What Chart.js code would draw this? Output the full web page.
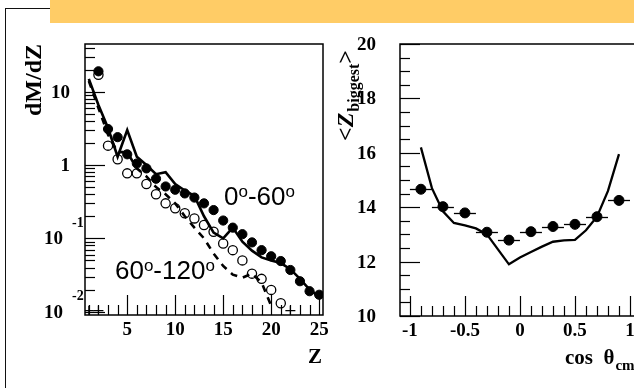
<!DOCTYPE html>
<html><head><meta charset="utf-8">
<script src="https://cdn.jsdelivr.net/npm/chart.js@4/dist/chart.umd.min.js"></script>
<style>
html,body{margin:0;padding:0;width:634px;height:388px;overflow:hidden;background:#fff;}
#banner{position:absolute;left:50px;top:0;width:584px;height:23px;background:#FFCC66;}
#frameTop{position:absolute;left:5px;top:8px;width:45px;height:0;border-top:1.5px solid #111;}
#frameLeft{position:absolute;left:5px;top:8px;width:0;height:380px;border-left:1.5px solid #111;}
#c1{position:absolute;left:0;top:0;}
#c2{position:absolute;left:330px;top:0;}
</style></head>
<body>
<div id="banner"></div><div id="frameTop"></div><div id="frameLeft"></div>
<canvas id="c1" width="340" height="388"></canvas>
<canvas id="c2" width="370" height="388"></canvas>
<script>
// ---------- Left panel data: dM/dZ vs Z ----------
const Z_FILLED = [2,3,4,5,6,7,8,9,10,11,12,13,14,15,16,17,18,19,20,21,22,23,24,25];
const DMDZ_0_60 = [19,3.1,2.4,1.4,1.05,0.9,0.65,0.51,0.46,0.41,0.36,0.30,0.243,0.175,0.14,0.114,0.088,0.069,0.057,0.049,0.037,0.026,0.019,0.017];
const Z_OPEN = [2,3,4,5,6,7,8,9,10,11,12,13,14,15,16,17,18,19,20,21];
const DMDZ_60_120 = [17,1.84,1.2,0.77,0.77,0.55,0.40,0.30,0.257,0.22,0.187,0.152,0.123,0.085,0.069,0.05,0.033,0.028,0.0198,0.013];
const Z_SIM_0_60 = [1,2,3,4,5,6,7,8,9,10,11,12,13,14,15,16,17,18,19,20,21,22,23,24,25];
const SIM_0_60 = [15,6.6,3.2,1.3,3.0,1.3,1.0,0.75,0.8,0.55,0.45,0.38,0.2,0.12,0.1,0.14,0.09,0.068,0.055,0.05,0.046,0.038,0.028,0.02,0.016];
const Z_SIM_60_120 = [1,2,3,4,5,6,7,8,9,10,11,12,13,14,15,16,17,18,19,20];
const SIM_60_120 = [14,6,2.6,1.5,1.5,0.9,0.7,0.5,0.4,0.3,0.2,0.14,0.1,0.062,0.042,0.032,0.029,0.033,0.025,0.012];
const Z_UNDER = [1,2,22];
const DMDZ_UNDER = [0.0103,0.0103,0.0103];
const LEFT_X_TICKS = [5,10,15,20,25];
const LEFT_X_MINOR = [1,2,3,4,6,7,8,9,11,12,13,14,16,17,18,19,21,22,23,24];
const LEFT_Y_TICKS = [0.01,0.1,1,10];
const LEFT_Y_TICK_LABELS = [["10","-2"],["10","-1"],["1",""],["10",""]];
const LEFT_Y_MINOR = [0.02,0.03,0.04,0.05,0.06,0.07,0.08,0.09,0.2,0.3,0.4,0.5,0.6,0.7,0.8,0.9,2,3,4,5,6,7,8,9,20,30,40];

// ---------- Right panel data: <Z_biggest> vs cos theta_cm ----------
const COS_BINS = [-0.9,-0.7,-0.5,-0.3,-0.1,0.1,0.3,0.5,0.7,0.9];
const ZBIG_DATA = [14.66,14.02,13.79,13.08,12.79,13.1,13.29,13.37,13.65,14.25];
const COS_ERR = [0.1,0.1,0.1,0.1,0.1,0.1,0.1,0.1,0.1,0.1];
const COS_SIM = [-0.9,-0.8,-0.7,-0.6,-0.5,-0.4,-0.3,-0.2,-0.1,0,0.1,0.2,0.3,0.4,0.5,0.6,0.7,0.8,0.9];
const ZBIG_SIM = [16.2,14.7,13.85,13.42,13.33,13.22,13.0,12.45,11.9,12.15,12.35,12.55,12.73,12.78,12.8,13.15,13.65,14.6,15.95];
const RIGHT_X_TICKS = [-1,-0.5,0,0.5,1];
const RIGHT_X_MINOR = [-0.9,-0.8,-0.7,-0.6,-0.4,-0.3,-0.2,-0.1,0.1,0.2,0.3,0.4,0.6,0.7,0.8,0.9];
const RIGHT_Y_TICKS = [10,12,14,16,18,20];
const RIGHT_Y_MINOR = [10.5,11,11.5,12.5,13,13.5,14.5,15,15.5,16.5,17,17.5,18.5,19,19.5];

const SERIF = '"Liberation Serif", "Times New Roman", serif';
const SANS = '"Liberation Sans", Arial, sans-serif';
const pts = (xs, ys) => xs.map((x, i) => ({x, y: ys[i]}));

function drawRich(ctx, x, y, parts) {
  let cx = x;
  for (const p of parts) {
    ctx.font = p.font;
    ctx.fillText(p.t, cx, y + (p.dy || 0));
    cx += ctx.measureText(p.t).width + (p.gap || 0);
  }
}

function makeFrame(cfg) {
  return {
    id: 'rootFrame',
    beforeDatasetsDraw(chart) {
      if (!cfg.xErr) return;
      const {ctx, scales: {x, y}} = chart;
      ctx.save();
      ctx.strokeStyle = '#000'; ctx.lineWidth = 1.3;
      cfg.xErr.xs.forEach((xv, i) => {
        const py = Math.round(y.getPixelForValue(cfg.xErr.ys[i])) + 0.5;
        ctx.beginPath();
        ctx.moveTo(x.getPixelForValue(xv - cfg.xErr.err[i]), py);
        ctx.lineTo(x.getPixelForValue(xv + cfg.xErr.err[i]), py);
        ctx.stroke();
      });
      ctx.restore();
    },
    afterDraw(chart) {
      const {ctx, chartArea: a, scales: {x, y}} = chart;
      ctx.save();
      ctx.strokeStyle = '#000'; ctx.lineWidth = 1.5;
      ctx.strokeRect(a.left, a.top, a.right - a.left, a.bottom - a.top);
      ctx.lineWidth = 1.2;
      const tick = (vals, len, axis) => vals.forEach(v => {
        ctx.beginPath();
        if (axis === 'x') { const p = Math.round(x.getPixelForValue(v)) + 0.5; ctx.moveTo(p, a.bottom); ctx.lineTo(p, a.bottom - len); }
        else { const p = Math.round(y.getPixelForValue(v)) + 0.5; ctx.moveTo(a.left, p); ctx.lineTo(a.left + len, p); }
        ctx.stroke();
      });
      tick(cfg.xMajor, 20, 'x'); tick(cfg.xMinor, 10, 'x');
      tick(cfg.yMajor, 20, 'y'); tick(cfg.yMinor, 10, 'y');
      ctx.fillStyle = '#000';
      cfg.draw(ctx, chart);
      ctx.restore();
    }
  };
}

const baseOptions = (xScale, yScale, padding) => ({
  responsive: false, animation: false, devicePixelRatio: 1,
  layout: {padding},
  plugins: {legend: {display: false}, tooltip: {enabled: false}},
  scales: {x: xScale, y: yScale}
});

// ---------- Left chart ----------
new Chart(document.getElementById('c1'), {
  type: 'scatter',
  data: {datasets: [
    {label: 'sim 0-60', data: pts(Z_SIM_0_60, SIM_0_60), showLine: true, borderColor: '#000', borderWidth: 2.6, pointRadius: 0, tension: 0},
    {label: 'sim 60-120', data: pts(Z_SIM_60_120, SIM_60_120), showLine: true, borderColor: '#000', borderWidth: 2.6, borderDash: [7, 6], pointRadius: 0, tension: 0},
    {label: '0-60', data: pts(Z_FILLED, DMDZ_0_60), pointRadius: 4.6, backgroundColor: '#000', borderColor: '#000', borderWidth: 1},
    {label: '60-120', data: pts(Z_OPEN, DMDZ_60_120), pointRadius: 4.6, backgroundColor: '#fff', borderColor: '#000', borderWidth: 1.3},
    {label: 'under', data: pts(Z_UNDER, DMDZ_UNDER), pointStyle: 'cross', pointRadius: 5, borderColor: '#000', borderWidth: 1.2}
  ]},
  options: baseOptions(
    {type: 'linear', min: 0.6, max: 25.4, grid: {display: false, drawTicks: false}, border: {display: false},
     ticks: {color: '#000', font: {family: SERIF, weight: 'bold', size: 19}, padding: 4, maxRotation: 0, autoSkip: false,
             callback: v => String(v)},
     afterBuildTicks: s => { s.ticks = LEFT_X_TICKS.map(v => ({value: v})); },
     afterFit: s => { s.height = 30; }},
    {type: 'logarithmic', min: 0.009, max: 44.8, grid: {display: false, drawTicks: false}, border: {display: false},
     ticks: {display: false}, afterFit: s => { s.width = 85; }},
    {left: 0, top: 44, right: 17, bottom: 43}
  ),
  plugins: [makeFrame({
    xMajor: LEFT_X_TICKS, xMinor: LEFT_X_MINOR, yMajor: LEFT_Y_TICKS, yMinor: LEFT_Y_MINOR,
    draw(ctx, chart) {
      const y = chart.scales.y;
      ctx.textBaseline = 'middle';
      LEFT_Y_TICKS.forEach((v, i) => {
        const [base, exp] = LEFT_Y_TICK_LABELS[i];
        const py = y.getPixelForValue(v);
        ctx.font = 'bold 19px ' + SERIF;
        ctx.textAlign = 'right';
        ctx.fillText(base, exp ? 63 : 70, py + 1);
        if (exp) { ctx.font = 'bold 14px ' + SERIF; ctx.textAlign = 'left'; ctx.fillText(exp, 72, py - 15); }
      });
      ctx.save();
      ctx.translate(41, 80); ctx.rotate(-Math.PI / 2);
      ctx.font = 'bold 24px ' + SERIF; ctx.textAlign = 'center'; ctx.textBaseline = 'alphabetic';
      ctx.fillText('dM/dZ', 0, 0);
      ctx.restore();
      ctx.font = 'bold 21px ' + SERIF; ctx.textAlign = 'center'; ctx.textBaseline = 'alphabetic';
      ctx.fillText('Z', 315, 363);
      ctx.textAlign = 'left';
      const big = '26px ' + SANS, sup = '17px ' + SANS;
      drawRich(ctx, 224, 205, [{t: '0', font: big}, {t: 'o', font: sup, dy: -8}, {t: '-60', font: big}, {t: 'o', font: sup, dy: -8}]);
      drawRich(ctx, 115, 279, [{t: '60', font: big}, {t: 'o', font: sup, dy: -8}, {t: '-120', font: big}, {t: 'o', font: sup, dy: -8}]);
    }
  })]
});

// ---------- Right chart ----------
new Chart(document.getElementById('c2'), {
  type: 'scatter',
  data: {datasets: [
    {label: 'sim', data: pts(COS_SIM, ZBIG_SIM), showLine: true, borderColor: '#000', borderWidth: 2.3, pointRadius: 0, tension: 0},
    {label: 'data', data: pts(COS_BINS, ZBIG_DATA), pointRadius: 5, backgroundColor: '#000', borderColor: '#000', borderWidth: 1}
  ]},
  options: baseOptions(
    {type: 'linear', min: -1.09, max: 1.1, grid: {display: false, drawTicks: false}, border: {display: false},
     ticks: {color: '#000', font: {family: SERIF, weight: 'bold', size: 19}, padding: 4, maxRotation: 0, autoSkip: false,
             callback: v => String(v)},
     afterBuildTicks: s => { s.ticks = RIGHT_X_TICKS.map(v => ({value: v})); },
     afterFit: s => { s.height = 30; }},
    {type: 'linear', min: 10, max: 20, grid: {display: false, drawTicks: false}, border: {display: false},
     ticks: {display: false}, afterFit: s => { s.width = 70; }},
    {left: 0, top: 44, right: 59, bottom: 42}
  ),
  plugins: [makeFrame({
    xMajor: RIGHT_X_TICKS, xMinor: RIGHT_X_MINOR, yMajor: RIGHT_Y_TICKS, yMinor: RIGHT_Y_MINOR,
    xErr: {xs: COS_BINS, ys: ZBIG_DATA, err: COS_ERR},
    draw(ctx, chart) {
      const y = chart.scales.y;
      ctx.textBaseline = 'middle'; ctx.textAlign = 'right';
      ctx.font = 'bold 19px ' + SERIF;
      RIGHT_Y_TICKS.forEach(v => ctx.fillText(String(v), 46, y.getPixelForValue(v) + 1));
      ctx.save();
      ctx.translate(23, 141); ctx.rotate(-Math.PI / 2);
      ctx.textAlign = 'left'; ctx.textBaseline = 'alphabetic';
      drawRich(ctx, 0, 0, [
        {t: '<', font: 'bold 24px ' + SERIF},
        {t: 'Z', font: 'italic bold 24px ' + SERIF, gap: 1},
        {t: 'biggest', font: 'bold 16px ' + SERIF, dy: 6},
        {t: '>', font: 'bold 24px ' + SERIF}
      ]);
      ctx.restore();
      ctx.textAlign = 'left'; ctx.textBaseline = 'alphabetic';
      drawRich(ctx, 235, 364, [
        {t: 'cos  \u03B8', font: 'bold 21px ' + SERIF, gap: 1},
        {t: 'cm', font: 'bold 15px ' + SERIF, dy: 6}
      ]);
    }
  })]
});
</script>
</body></html>
